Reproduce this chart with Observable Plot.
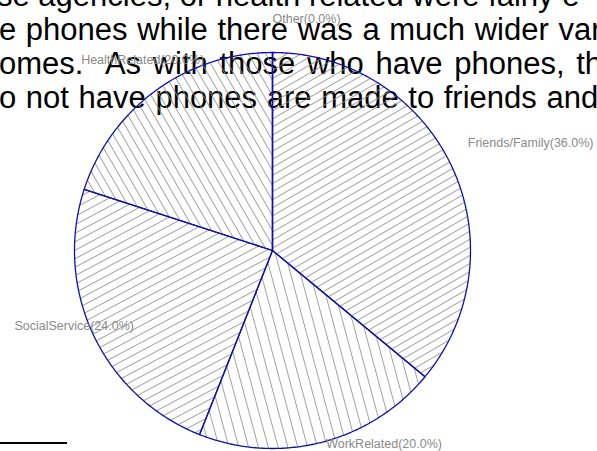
<!DOCTYPE html>
<html><head><meta charset="utf-8">
<script src="https://cdn.jsdelivr.net/npm/d3@7"></script>
<script src="https://cdn.jsdelivr.net/npm/@observablehq/plot@0.6"></script>
<style>
html,body{margin:0;padding:0;background:#fff}
body{width:597px;height:451px;overflow:hidden;position:relative}
#bg{position:absolute;left:0;top:0;width:597px;height:451px;overflow:hidden;font-family:"Liberation Sans",Arial,sans-serif;font-size:31px;line-height:36px;color:#000;white-space:pre}
#bg div.l{position:absolute;left:0}
#rule{position:absolute;left:0;top:442px;width:67px;height:2px;background:#000}
#chart{position:absolute;left:0;top:0}
</style></head><body>
<svg width="0" height="0" style="position:absolute">
  <defs id="pats"></defs>
</svg>
<div id="bg"></div>
<div id="chart"></div>
<script>
// ---- data ----
const categories = ["Friends/Family", "WorkRelated", "SocialService", "HealthRelated", "Other"];
const percents = [36.0, 20.0, 24.0, 20.0, 0.0];
const bgLines = [
  "se agencies, or health related were fairly e",
  "e phones while there was a much wider var",
  "omes.  As with those who have phones, th",
  "o not have phones are made to friends and"
];

// ---- styles ----
const wordSpacing = [0, 1, 3, 1];
const hatch = {
  "Friends/Family": {angle: 60, gap: 7},
  "WorkRelated": {angle: -15, gap: 9.5},
  "SocialService": {angle: 62, gap: 7.5},
  "HealthRelated": {angle: -30, gap: 7.5},
  "Other": {angle: 0, gap: 8}
};

// background document text
const bg = document.getElementById("bg");
bgLines.forEach((t, i) => {
  const d = document.createElement("div");
  d.className = "l";
  d.style.top = (-22 + i * 34) + "px";
  d.style.left = (i === 0 ? -3 : -1) + "px";
  d.style.wordSpacing = wordSpacing[i] + "px";
  d.textContent = t;
  bg.appendChild(d);
});
const rule = document.createElement("div");
rule.id = "rule";
bg.appendChild(rule);

// hatch patterns
const defs = document.getElementById("pats");
categories.forEach((c, i) => {
  const h = hatch[c];
  defs.insertAdjacentHTML("beforeend",
    `<pattern id="h${i}" patternUnits="userSpaceOnUse" width="${h.gap}" height="${h.gap}" patternTransform="rotate(${h.angle})">
       <line x1="0.5" y1="0" x2="0.5" y2="${h.gap}" stroke="#8c8c8c" stroke-width="0.8"/>
     </pattern>`);
});

// pie geometry from values
const slices = d3.pie().sort(null).value(d => d.v).startAngle(0).endAngle(2 * Math.PI)(
  categories.map((c, i) => ({c, v: percents[i], i}))
);
const poly = [];
slices.forEach(s => {
  const n = Math.max(2, Math.ceil((s.endAngle - s.startAngle) / 0.01));
  poly.push({c: s.data.c, i: s.data.i, x: 0, y: 0});
  for (let k = 0; k <= n; k++) {
    const a = s.startAngle + (s.endAngle - s.startAngle) * k / n;
    poly.push({c: s.data.c, i: s.data.i, x: Math.sin(a), y: Math.cos(a)});
  }
  poly.push({c: s.data.c, i: s.data.i, x: 0, y: 0});
});
const labelR = 1.09;
const labels = slices.map(s => {
  const a = (s.startAngle + s.endAngle) / 2;
  return {
    text: `${s.data.c}(${s.data.v.toFixed(1)}%)`,
    x: Math.sin(a) * labelR, y: Math.cos(a) * labelR,
    right: Math.sin(a) > -1e-9
  };
});

// layout: radius unit ↔ 198px, centre at (272,250)
const W = 597, H = 451, R = 198, cx = 272, cy = 250;
const font = {fill: "#8a8a8a", fontSize: 12.5, fontFamily: "Liberation Sans, Arial, sans-serif", dy: -16};
const chart = Plot.plot({
  width: W, height: H, margin: 0,
  style: {background: "transparent", overflow: "visible"},
  x: {domain: [-cx / R, (W - cx) / R], range: [0, W], axis: null},
  y: {domain: [-(H - cy) / R, cy / R], range: [H, 0], axis: null},
  marks: [
    ...categories.map((c, i) => Plot.line(poly.filter(p => p.i === i), {
      x: "x", y: "y", fill: `url(#h${i})`, stroke: "#1010b0", strokeWidth: 1.3, curve: "linear"
    })),
    Plot.text(labels.filter(d => d.right), {x: "x", y: "y", text: "text", textAnchor: "start", ...font}),
    Plot.text(labels.filter(d => !d.right), {x: "x", y: "y", text: "text", textAnchor: "middle", ...font, dx: -3})
  ]
});
document.getElementById("chart").appendChild(chart);
</script>
</body></html>
